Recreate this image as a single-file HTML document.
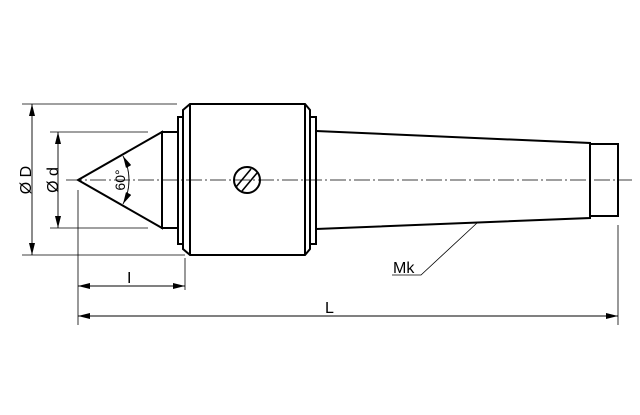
<!DOCTYPE html>
<html><head><meta charset="utf-8"><style>
html,body{margin:0;padding:0;background:#fff;}
svg{display:block;}
text{font-family:"Liberation Sans",sans-serif;fill:#000;}
</style></head><body>
<svg width="640" height="415" viewBox="0 0 640 415" xmlns="http://www.w3.org/2000/svg">
<defs>
<marker id="a" viewBox="0 0 12 6" refX="12" refY="3" markerWidth="12" markerHeight="6" orient="auto-start-reverse" markerUnits="userSpaceOnUse">
<path d="M0,0 L12,3 L0,6 Z" fill="#000"/></marker>
</defs>
<g stroke="#000" fill="none">
<line x1="66" y1="180" x2="632" y2="180" stroke-width="0.8" stroke-dasharray="16,3,2,3"/>
<g stroke-width="0.8">
<line x1="22" y1="104" x2="177" y2="104"/>
<line x1="22" y1="255" x2="185" y2="255"/>
<line x1="50" y1="132" x2="148" y2="132"/>
<line x1="50" y1="228" x2="148" y2="228"/>
<line x1="78" y1="190" x2="78" y2="325"/>
<line x1="185" y1="258" x2="185" y2="290"/>
<line x1="618" y1="225" x2="618" y2="325"/>
</g>
<g stroke-width="0.9">
<line x1="32" y1="104" x2="32" y2="255" marker-start="url(#a)" marker-end="url(#a)"/>
<line x1="58" y1="132" x2="58" y2="228" marker-start="url(#a)" marker-end="url(#a)"/>
<line x1="78" y1="286" x2="185" y2="286" marker-start="url(#a)" marker-end="url(#a)"/>
<line x1="78" y1="316" x2="618" y2="316" marker-start="url(#a)" marker-end="url(#a)"/>
<path d="M123,156 A51,51 0 0 1 123,204" marker-start="url(#a)" marker-end="url(#a)"/>
</g>
<g stroke-width="2">
<path d="M78,180 L162,132 L162,228 Z"/>
<rect x="162" y="132" width="16" height="96"/>
<rect x="178" y="117" width="5" height="127"/>
<path d="M183,110 L190,104 L305,104 L310,110 L310,249 L305,255 L190,255 L183,249 Z"/>
<line x1="190" y1="104" x2="190" y2="255"/>
<line x1="305" y1="104" x2="305" y2="255"/>
<rect x="310" y="117" width="6" height="127"/>
<path d="M316,131 L590,143 L590,218 L316,229"/>
<rect x="590" y="144" width="28" height="72"/>
<circle cx="247" cy="180" r="13"/>
<line x1="236" y1="187" x2="251" y2="169" stroke-width="1.6"/>
<line x1="242" y1="191" x2="257" y2="173" stroke-width="1.6"/>
</g>
<path d="M477,223 L421,275 L392,275" stroke-width="0.8"/>
</g>
<text x="393" y="273" style="font-size:16px">Mk</text>
<text x="325" y="313" style="font-size:16px">L</text>
<text x="127" y="283" style="font-size:16px">I</text>
<text transform="translate(31,180) rotate(-90)" text-anchor="middle" style="font-size:16px">Ø D</text>
<text transform="translate(58,180) rotate(-90)" text-anchor="middle" style="font-size:16px">Ø d</text>
<text transform="translate(125,180) rotate(-90)" text-anchor="middle" style="font-size:14px">60°</text>
</svg>
</body></html>
